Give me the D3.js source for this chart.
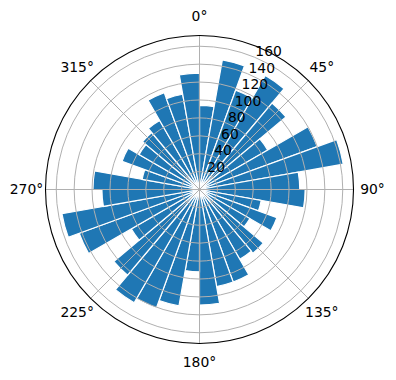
<!DOCTYPE html>
<html>
<head>
<meta charset="utf-8">
<script src="https://cdn.jsdelivr.net/npm/d3@7"></script>
<style>
  body { margin: 0; background: #fff; }
  svg { display: block; }
</style>
</head>
<body>
<svg id="chart"></svg>
<script>
// bin start angles (degrees, clockwise from north), 10° wide each
const binStart = [0, 10, 20, 30, 40, 50, 60, 70, 80, 90, 100, 110,
                  120, 130, 140, 150, 160, 170, 180, 190, 200, 210, 220, 230,
                  240, 250, 260, 270, 280, 290, 300, 310, 320, 330, 340, 350];
const counts = [94, 147, 118, 147, 126, 88, 140, 163, 112, 118, 70, 92,
                65, 93, 90, 110, 110, 129, 92, 132, 141, 146, 125, 88,
                143, 156, 109, 119, 65, 92, 78, 83, 89, 115, 108, 130];
const thetaTicks = [0, 45, 90, 135, 180, 225, 270, 315];
const rTicks = [20, 40, 60, 80, 100, 120, 140, 160];

const width = 396, height = 380;
const cx = 199.5, cy = 189.5, R = 154;
const binWidth = 10;
const rMax = 172;

const svg = d3.select("#chart")
    .attr("width", width)
    .attr("height", height)
    .attr("viewBox", [0, 0, width, height]);

const r = d3.scaleLinear([0, rMax], [0, R]);
const rad = d => d * Math.PI / 180;

const g = svg.append("g").attr("transform", `translate(${cx},${cy})`);

// bars
const arc = d3.arc()
    .innerRadius(0)
    .outerRadius(d => r(d.v))
    .startAngle(d => rad(d.a))
    .endAngle(d => rad(d.a + binWidth));

g.append("g")
  .selectAll("path")
  .data(binStart.map((a, i) => ({a, v: counts[i]})))
  .join("path")
    .attr("d", arc)
    .attr("fill", "#1f77b4")
    .attr("stroke", "#fff")
    .attr("stroke-width", 1.2);

// grid
g.append("g")
  .selectAll("circle")
  .data(rTicks)
  .join("circle")
    .attr("r", d => r(d))
    .attr("fill", "none")
    .attr("stroke", "#b0b0b0")
    .attr("stroke-width", 1);

g.append("g")
  .selectAll("line")
  .data(thetaTicks)
  .join("line")
    .attr("x2", d => R * Math.sin(rad(d)))
    .attr("y2", d => -R * Math.cos(rad(d)))
    .attr("stroke", "#b0b0b0")
    .attr("stroke-width", 1);

// outer frame
g.append("circle")
    .attr("r", R)
    .attr("fill", "none")
    .attr("stroke", "#000")
    .attr("stroke-width", 1.1);

// angle labels
g.append("g")
    .attr("font-family", "DejaVu Sans")
    .attr("font-size", 13.9)
  .selectAll("text")
  .data(thetaTicks)
  .join("text")
    .attr("x", d => 173 * Math.sin(rad(d)))
    .attr("y", d => -173 * Math.cos(rad(d)))
    .attr("text-anchor", "middle")
    .attr("dy", "0.35em")
    .text(d => d + "°");

// radial labels at 22.5°
const la = rad(22.5);
g.append("g")
    .attr("font-family", "DejaVu Sans")
    .attr("font-size", 13.9)
  .selectAll("text")
  .data(rTicks)
  .join("text")
    .attr("x", d => r(d) * Math.sin(la) + 1)
    .attr("y", d => -r(d) * Math.cos(la) - 1)
    .attr("text-anchor", "start")
    .text(d => d);
</script>
</body>
</html>
